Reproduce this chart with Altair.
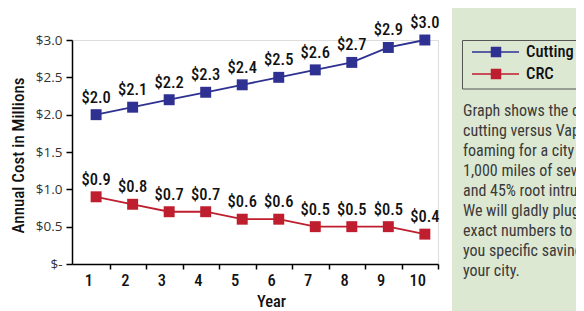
import altair as alt
import pandas as pd

years = list(range(1, 11))
cutting = [2.0, 2.1, 2.2, 2.3, 2.4, 2.5, 2.6, 2.7, 2.9, 3.0]
crc = [0.9, 0.8, 0.7, 0.7, 0.6, 0.6, 0.5, 0.5, 0.5, 0.4]
series = ["Cutting", "CRC"]
colors = ["#2e3192", "#be1e2d"]
y_ticks = [0, 0.5, 1.0, 1.5, 2.0, 2.5, 3.0]
note_lines = [
    "Graph shows the cost of root",
    "cutting versus Vaporooter",
    "foaming for a city with",
    "1,000 miles of sewer",
    "and 45% root intrusion.",
    "We will gladly plug in your",
    "exact numbers to show",
    "you specific savings for",
    "your city.",
]

COND = "Roboto Condensed, Liberation Sans Narrow, DejaVu Sans Condensed, Arial Narrow, sans-serif"
REG = "Open Sans, Liberation Sans, sans-serif"
W = 500

rows = []
for s, vals in zip(series, [cutting, crc]):
    for yr, v in zip(years, vals):
        rows.append({"year": yr, "value": v, "series": s, "label": f"${v:.1f}"})
df = pd.DataFrame(rows)

color = alt.Color("series:N", scale=alt.Scale(domain=series, range=colors), legend=None)

x = alt.X(
    "year:Q",
    scale=alt.Scale(domain=[0.34, 10.36], nice=False, zero=False),
    axis=alt.Axis(
        values=years, tickOffset=13.6, labelOffset=-21.3, tickSize=5, tickWidth=1.5,
        tickColor="#000", domainColor="#000", domainWidth=1.5, grid=False,
        labelFont=COND, labelFontSize=16.5, labelFontWeight=W, labelColor="#111", labelPadding=3,
        labelBaseline="top", title="Year", titleFont=COND, titleFontSize=16.5,
        titleFontWeight=W, titleColor="#111", titleX=199, titleY=37,
        titleBaseline="middle", titleAlign="center",
    ),
)
y = alt.Y(
    "value:Q",
    scale=alt.Scale(domain=[0, 3], nice=False),
    axis=alt.Axis(
        values=y_ticks, labelExpr="datum.value == 0 ? '$-' : '$' + format(datum.value, '.1f')",
        tickSize=6, tickWidth=1.5, tickColor="#000", domainColor="#000", domainWidth=1.5,
        grid=False, labelFont=REG, labelFontSize=13.5, labelColor="#333", labelPadding=4,
        title="Annual Cost in Millions", titleFont=COND, titleFontSize=17,
        titleFontWeight=W, titleColor="#111", titleX=-53.5, titleY=115,
        titleAngle=270, titleBaseline="middle", titleAlign="center",
    ),
)

# right-hand panel background
panel = alt.Chart(pd.DataFrame({"a": [0]})).mark_rect(color="#dde8d3", clip=False).encode(
    x=alt.value(380), x2=alt.value(520), y=alt.value(-40), y2=alt.value(275)
)

base = alt.Chart(df)
lines = base.mark_line(strokeWidth=1.8).encode(x=x, y=y, color=color, detail="series:N")
points = base.mark_square(size=120, opacity=1).encode(x=x, y=y, color=color)
labels = base.mark_text(
    dy=-12, baseline="alphabetic", font=COND, fontSize=16.5, fontWeight=W, color="#111"
).encode(x=x, y=y, text="label:N")

# legend
leg_box = alt.Chart(pd.DataFrame({"a": [0]})).mark_rect(
    fill="#dde8d3", stroke="#555", strokeWidth=1, clip=False
).encode(x=alt.value(390.5), x2=alt.value(540), y=alt.value(0.5), y2=alt.value(49))
leg_df = pd.DataFrame({"series": series, "row": [12, 34]})
leg_lines = alt.Chart(leg_df).mark_rule(strokeWidth=1.5, clip=False).encode(
    x=alt.value(400), x2=alt.value(447), y=alt.Y("row:Q", scale=None), color=color
)
leg_sq = alt.Chart(leg_df).mark_square(size=110, opacity=1, clip=False).encode(
    x=alt.value(424), y=alt.Y("row:Q", scale=None), color=color
)
leg_txt = alt.Chart(leg_df).mark_text(
    align="left", baseline="middle", font=COND, fontSize=16.5, fontWeight=W, color="#111", clip=False
).encode(x=alt.value(454), y=alt.Y("row:Q", scale=None), text="series:N")

note = alt.Chart(pd.DataFrame({"t": ["\n".join(note_lines)]})).mark_text(
    align="left", baseline="alphabetic", font=COND, fontSize=16, color="#3a3a3a",
    lineBreak="\n", lineHeight=20, clip=False
).encode(x=alt.value(391), y=alt.value(76), text="t:N")

chart = alt.layer(
    panel, lines, points, labels, leg_box, leg_lines, leg_sq, leg_txt, note
).properties(
    width=366, height=224,
    autosize=alt.AutoSizeParams(type="none"),
    padding={"left": 64, "top": 32, "right": 138, "bottom": 47},
).configure_view(stroke=None).configure(background="white")

chart.save("out.html", embed_options={"renderer": "svg", "actions": False})
